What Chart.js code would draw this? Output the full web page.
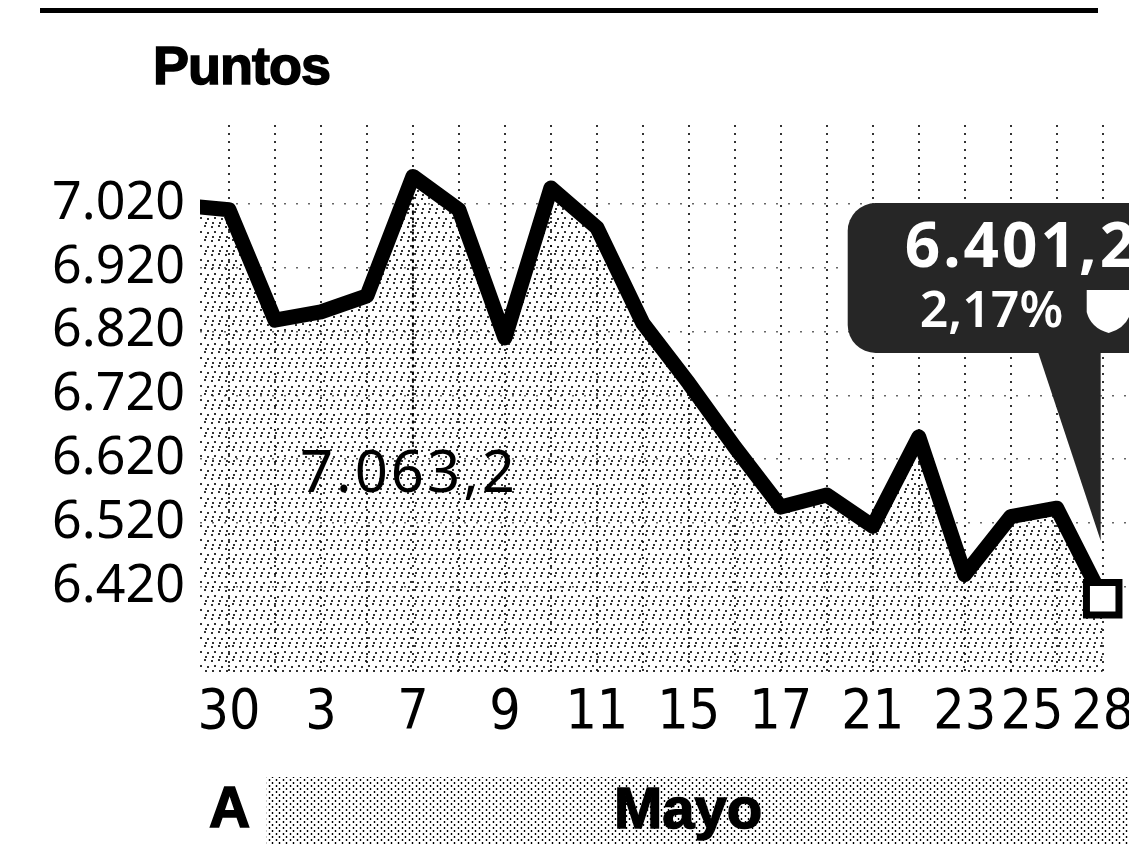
<!DOCTYPE html>
<html>
<head>
<meta charset="utf-8">
<script src="https://cdn.jsdelivr.net/npm/chart.js@4.4.1/dist/chart.umd.min.js"></script>
<style>
  html, body { margin:0; padding:0; background:#fff; }
  #wrap { position:relative; width:1129px; height:845px; overflow:hidden; background:#fff; }
  #c { position:absolute; left:0; top:0; z-index:2; }
  .rule { position:absolute; left:40px; top:8px; width:1058px; height:5px; background:#000; z-index:3; }
  .band { position:absolute; left:266px; top:777px; width:863px; height:68px; z-index:1;
          background-image: radial-gradient(circle, #000 0.8px, transparent 1.2px),
                            radial-gradient(circle, #000 0.8px, transparent 1.2px);
          background-size:7px 6px, 7px 6px; background-position:0 0, 3px 3px; }
  .lbl { position:absolute; font-family:"Liberation Sans", Arial, sans-serif; font-weight:bold;
         color:#000; line-height:1; z-index:3; -webkit-text-stroke:1.5px #000; white-space:nowrap; }
  #puntos { left:153px; top:38px; font-size:54px; letter-spacing:-1px; }
  #mesA { left:209px; top:779px; font-size:57px; }
  #mesB { left:614px; top:779px; font-size:58px; }
</style>
</head>
<body>
<div id="wrap">
  <div class="rule"></div>
  <div class="band"></div>
  <div class="lbl" id="puntos">Puntos</div>
  <div class="lbl" id="mesA">A</div>
  <div class="lbl" id="mesB">Mayo</div>
  <canvas id="c" width="1129" height="845"></canvas>
</div>
<script>
// ---- data (index, points) ----
const dates    = ['27','30','2','3','4','7','8','9','10','11','14','15','16','17','18','21','22','23','24','25','28'];
const values   = [7018, 7011, 6838, 6851, 6876, 7063.2, 7011, 6810, 7045, 6983, 6833, 6739, 6639, 6545, 6564, 6515, 6655, 6439, 6530, 6543.2, 6401.2];
const tickDays = ['30','3','7','9','11','15','17','21','23','25','28'];
const yTicks   = [6420, 6520, 6620, 6720, 6820, 6920, 7020];

function fmtThousands(v) {
  const s = String(Math.floor(v));
  return s.length > 3 ? s.slice(0, s.length-3) + '.' + s.slice(-3) : s;
}
function fmtDec(v) {
  const r = Math.round(v*10)/10;
  const ip = Math.floor(r);
  const dec = Math.round((r-ip)*10);
  return fmtThousands(ip) + ',' + dec;
}

// stipple pattern for the area
function makePattern() {
  const p = document.createElement('canvas');
  p.width = 14; p.height = 14;
  const g = p.getContext('2d');
  g.fillStyle = 'rgba(0,0,0,0.8)';
  [[1,2],[8,1],[4,7],[11,8],[2,12],[9,12]].forEach(([x,y]) => g.fillRect(x,y,2,2));
  return document.getElementById('c').getContext('2d').createPattern(p, 'repeat');
}

const lastIdx = values.length - 1;

const annotPlugin = {
  id: 'annot',
  afterDatasetsDraw(chart) {
    const ctx = chart.ctx;
    const meta = chart.getDatasetMeta(0);
    const ca = chart.chartArea;
    // peak label
    let imax = 0;
    values.forEach((v,i) => { if (v > values[imax]) imax = i; });
    const pk = meta.data[imax];
    ctx.save();
    ctx.strokeStyle = '#000';
    ctx.lineWidth = 2;
    ctx.setLineDash([3,4]);
    ctx.beginPath();
    ctx.moveTo(pk.x, pk.y + 20);
    ctx.lineTo(pk.x, ca.top + 322);
    ctx.stroke();
    ctx.setLineDash([]);
    ctx.fillStyle = '#000';
    ctx.font = '58px "Noto Sans"';
    ctx.letterSpacing = '3px';
    ctx.textAlign = 'left';
    ctx.textBaseline = 'alphabetic';
    ctx.fillText(fmtDec(values[imax]), pk.x - 113, ca.top + 367);
    ctx.restore();

    // last value callout
    const last = meta.data[lastIdx];
    const lx = last.x, ly = last.y;
    const bx = lx - 255, by = ca.top + 78, bw = 340, bh = 150, r = 28;
    ctx.save();
    ctx.fillStyle = '#262626';
    ctx.beginPath();
    ctx.moveTo(bx + r, by);
    ctx.lineTo(bx + bw - r, by);
    ctx.arcTo(bx + bw, by, bx + bw, by + r, r);
    ctx.lineTo(bx + bw, by + bh - r);
    ctx.arcTo(bx + bw, by + bh, bx + bw - r, by + bh, r);
    ctx.lineTo(bx + r, by + bh);
    ctx.arcTo(bx, by + bh, bx, by + bh - r, r);
    ctx.lineTo(bx, by + r);
    ctx.arcTo(bx, by, bx + r, by, r);
    ctx.closePath();
    ctx.fill();
    ctx.beginPath();
    ctx.moveTo(lx - 65, by + bh - 2);
    ctx.lineTo(lx - 2, by + bh - 2);
    ctx.lineTo(lx - 2, ly - 58);
    ctx.closePath();
    ctx.fill();

    const prev = values[lastIdx - 1];
    const pct = Math.abs((values[lastIdx] / prev - 1) * 100);
    const pctTxt = pct.toFixed(2).replace('.', ',') + '%';
    ctx.fillStyle = '#fff';
    ctx.textAlign = 'left';
    ctx.textBaseline = 'alphabetic';
    ctx.font = 'bold 62px "Noto Sans"';
    ctx.letterSpacing = '3px';
    ctx.fillText(fmtDec(values[lastIdx]), bx + 57, by + 64);
    ctx.font = '600 50px "Noto Sans"';
    ctx.letterSpacing = '0px';
    ctx.fillText(pctTxt, bx + 72, by + 124);
    // down-arrow shield
    const sx = bx + 239, sy = by + 87;
    ctx.beginPath();
    ctx.moveTo(sx, sy);
    ctx.lineTo(sx + 44, sy);
    ctx.lineTo(sx + 44, sy + 22);
    ctx.quadraticCurveTo(sx + 40, sy + 38, sx + 22, sy + 43);
    ctx.quadraticCurveTo(sx + 4, sy + 38, sx, sy + 22);
    ctx.closePath();
    ctx.fill();
    ctx.restore();
  }
};

// label for an x tick; crowded neighbour labels are nudged left with spaces
function xTickLabel(v) {
  const d = dates[v + 1];
  if (!tickDays.includes(d)) return '';
  const nxt = dates[v + 2];
  if (nxt !== undefined && tickDays.includes(nxt) && v + 2 === dates.length - 1) return d + '\u2002\u2002';
  return d;
}

const chart = new Chart(document.getElementById('c'), {
  type: 'line',
  data: {
    datasets: [{
      data: dates.map((d, i) => ({ x: i - 1, y: values[i] })),
      borderColor: '#000',
      borderWidth: 15,
      borderJoinStyle: 'round',
      borderCapStyle: 'round',
      tension: 0,
      fill: 'start',
      backgroundColor: makePattern(),
      clip: 0,
      pointStyle: 'rect',
      pointRadius: (c) => c.dataIndex === lastIdx ? 23 : 0,
      pointBackgroundColor: '#fff',
      pointBorderColor: '#000',
      pointBorderWidth: 7,
      pointHoverRadius: 0
    }]
  },
  options: {
    responsive: false,
    animation: false,
    devicePixelRatio: 1,
    events: [],
    layout: { autoPadding: false, padding: { top: 125, left: 0, right: 1, bottom: 0 } },
    plugins: { legend: { display: false }, tooltip: { enabled: false } },
    scales: {
      x: {
        type: 'linear',
        min: -0.63,
        max: 19.55,
        afterBuildTicks: (s) => { s.ticks = dates.slice(1).map((d, i) => ({ value: i })); },
        afterFit: (s) => { s.height = 173; s.paddingLeft = 0; s.paddingRight = 0; },
        ticks: {
          autoSkip: false,
          maxRotation: 0,
          padding: 9,
          color: '#000',
          font: { family: "'Liberation Sans Narrow', 'DejaVu Sans Condensed', 'Roboto Condensed', sans-serif", size: 55 },
          callback: xTickLabel
        },
        grid: { color: '#333', lineWidth: 2, drawTicks: false },
        border: { display: false, dash: [2, 6] }
      },
      y: {
        min: 6286.5,
        max: 7143.8,
        afterBuildTicks: (s) => { s.ticks = yTicks.map(v => ({ value: v })); },
        afterFit: (s) => { s.width = 200; s.paddingTop = 0; s.paddingBottom = 0; },
        ticks: {
          padding: 15,
          color: '#000',
          font: { family: "'Noto Sans', sans-serif", size: 52 },
          callback: (v) => fmtThousands(v)
        },
        grid: { color: '#666', lineWidth: 1.5, drawTicks: false },
        border: { display: false, dash: [2, 10] }
      }
    }
  },
  plugins: [annotPlugin]
});
</script>
</body>
</html>
